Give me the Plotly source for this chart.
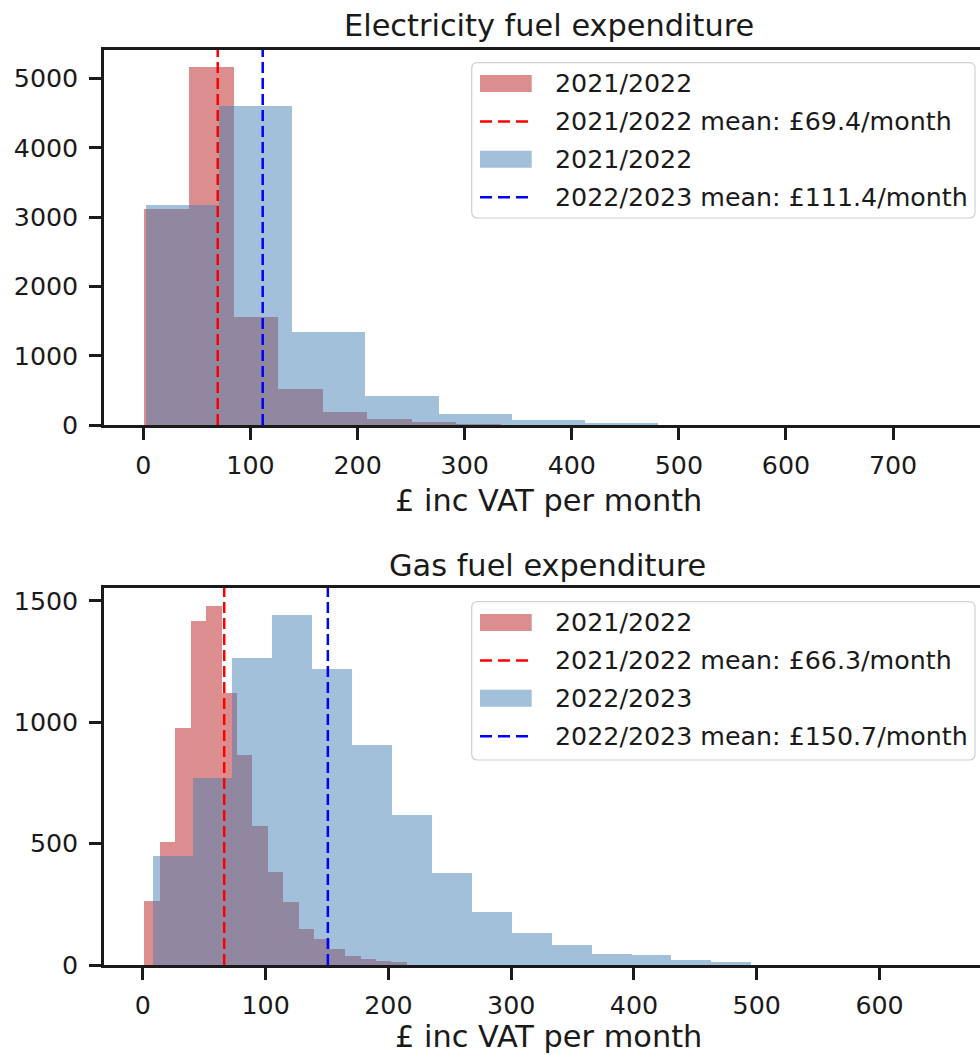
import plotly.graph_objects as go
import re

# ---------------- data ----------------
elec_2122_edges = [1.0, 42.6, 84.2, 125.8, 167.4, 209.0, 250.6, 292.2, 333.8, 375.4, 417.0]
elec_2122_counts = [3110, 5160, 1560, 515, 185, 82, 40, 12, 3, 1]
elec_2223_edges = [2.4, 70.7, 139.0, 207.3, 275.6, 343.9, 412.2, 480.5, 548.8, 617.1, 685.4]
elec_2223_counts = [3180, 4600, 1340, 420, 155, 65, 25, 2, 1, 1]
elec_mean_2122 = 69.4
elec_mean_2223 = 111.4

gas_2122_edges = [1.2, 13.8, 26.4, 39.0, 51.6, 64.1, 76.7, 89.3, 101.9, 114.4, 127.0,
                  139.6, 152.2, 164.8, 177.3, 189.9, 202.5, 215.1, 227.6, 240.2, 252.8]
gas_2122_counts = [265, 506, 977, 1418, 1480, 1122, 867, 571, 383, 261,
                   149, 107, 66, 38, 23, 15, 14, 1, 1, 1]
gas_2223_edges = [8.0, 40.5, 73.0, 105.5, 138.0, 170.5, 203.0, 235.5, 268.0, 300.5, 333.0,
                  365.5, 398.0, 430.5, 463.0, 495.5, 528.0, 560.5, 593.0, 625.5, 658.0]
gas_2223_counts = [447, 771, 1266, 1441, 1218, 908, 619, 377, 218, 133,
                   83, 47, 40, 19, 11, 1, 1, 1, 1, 1]
gas_mean_2122 = 66.3
gas_mean_2223 = 150.7

elec_xticks = [0, 100, 200, 300, 400, 500, 600, 700]
elec_yticks = [0, 1000, 2000, 3000, 4000, 5000]
gas_xticks = [0, 100, 200, 300, 400, 500, 600]
gas_yticks = [0, 500, 1000, 1500]

elec_title = "Electricity fuel expenditure"
gas_title = "Gas fuel expenditure"
x_label = "£ inc VAT per month"
elec_legend = ["2021/2022", f"2021/2022 mean: £{elec_mean_2122}/month",
               "2021/2022", f"2022/2023 mean: £{elec_mean_2223}/month"]
gas_legend = ["2021/2022", f"2021/2022 mean: £{gas_mean_2122}/month",
              "2022/2023", f"2022/2023 mean: £{gas_mean_2223}/month"]

# ---------------- styling ----------------
RED_FILL = "rgba(205,92,92,0.7)"      # indianred, alpha .7
BLUE_FILL = "rgba(70,130,180,0.5)"    # steelblue, alpha .5
FONT = "DejaVu Sans"
TXT = "#1a1a1a"
TICK_SIZE = 25.3
TITLE_SIZE = 30.4

W, H = 980, 1055
ML, MR, MT, MB = 104, 0, 50, 90
PW, PH = W - ML - MR, H - MT - MB


def fx(px):
    return (px - ML) / PW


def fy(py):
    return (H - MB - py) / PH


def bars(edges, counts, color, name, xa, ya):
    centers = [(a + b) / 2 for a, b in zip(edges[:-1], edges[1:])]
    widths = [b - a for a, b in zip(edges[:-1], edges[1:])]
    return go.Bar(x=centers, y=counts, width=widths, name=name,
                  marker=dict(color=color, line=dict(width=0)),
                  xaxis=xa, yaxis=ya, showlegend=False, hoverinfo="x+y")


fig = go.Figure()
fig.add_trace(bars(elec_2122_edges, elec_2122_counts, RED_FILL, elec_legend[0], "x", "y"))
fig.add_trace(bars(elec_2223_edges, elec_2223_counts, BLUE_FILL, elec_legend[2], "x", "y"))
fig.add_trace(bars(gas_2122_edges, gas_2122_counts, RED_FILL, gas_legend[0], "x2", "y2"))
fig.add_trace(bars(gas_2223_edges, gas_2223_counts, BLUE_FILL, gas_legend[2], "x2", "y2"))

shapes = []
annotations = []
DASH = "11px,5px"

# mean lines
for xr, yr, m, c in [("x", "y", elec_mean_2122, "red"), ("x", "y", elec_mean_2223, "blue"),
                     ("x2", "y2", gas_mean_2122, "red"), ("x2", "y2", gas_mean_2223, "blue")]:
    shapes.append(dict(type="line", xref=xr, yref=yr + " domain", x0=m, x1=m, y0=0, y1=1,
                       line=dict(color=c, width=2.5, dash=DASH), layer="above"))


def legend(box_top, box_bot, labels, colors_kind):
    left, right, r = 471.7, 975.0, 6
    path = (f"M {left + r},{box_top} L {right - r},{box_top} Q {right},{box_top} {right},{box_top + r} "
            f"L {right},{box_bot - r} Q {right},{box_bot} {right - r},{box_bot} "
            f"L {left + r},{box_bot} Q {left},{box_bot} {left},{box_bot - r} "
            f"L {left},{box_top + r} Q {left},{box_top} {left + r},{box_top} Z")

    def conv(match):
        a, b = float(match.group(1)), float(match.group(2))
        return f"{fx(a):.5f},{fy(b):.5f}"
    path = re.sub(r"([-\d.]+),([-\d.]+)", conv, path)
    shapes.append(dict(type="path", xref="paper", yref="paper", path=path,
                       fillcolor="rgba(255,255,255,0.8)", line=dict(color="#d0d0d0", width=1.2),
                       layer="above"))
    first = box_top + 20.8
    step = 37.9
    for i, (lab, kind) in enumerate(zip(labels, colors_kind)):
        cy = first + i * step
        if kind in ("rf", "bf"):
            shapes.append(dict(type="rect", xref="paper", yref="paper",
                               x0=fx(480), x1=fx(531.7), y0=fy(cy - 8.5), y1=fy(cy + 8.5),
                               fillcolor=RED_FILL if kind == "rf" else BLUE_FILL,
                               line=dict(width=0), layer="above"))
        else:
            shapes.append(dict(type="line", xref="paper", yref="paper",
                               x0=fx(480), x1=fx(531.7), y0=fy(cy), y1=fy(cy),
                               line=dict(color="red" if kind == "rl" else "blue", width=2.5,
                                         dash="12px,6px"),
                               layer="above"))
        annotations.append(dict(text=lab, xref="paper", yref="paper", x=fx(552.7), y=fy(cy),
                                xanchor="left", yanchor="middle", showarrow=False,
                                font=dict(family=FONT, size=TICK_SIZE, color=TXT)))


legend(62.7, 218.0, elec_legend, ["rf", "rl", "bf", "bl"])
legend(601.7, 760.0, gas_legend, ["rf", "rl", "bf", "bl"])

# titles and axis labels
for text, x, y, size in [(elec_title, 548.5, 25.5, TITLE_SIZE), (gas_title, 547.0, 565.0, TITLE_SIZE),
                         (x_label, 548.3, 500.0, TITLE_SIZE), (x_label, 548.3, 1036.5, TITLE_SIZE)]:
    annotations.append(dict(text=text, xref="paper", yref="paper", x=fx(x), y=fy(y),
                            xanchor="center", yanchor="middle", showarrow=False,
                            font=dict(family=FONT, size=size, color=TXT)))

axis_common = dict(showgrid=False, zeroline=False, showline=True, linecolor=TXT, linewidth=2.5,
                   ticks="outside", ticklen=12, tickwidth=2.5, tickcolor=TXT,
                   tickfont=dict(family=FONT, size=TICK_SIZE, color=TXT))

top_dom = [fy(425), 1.0]
bot_dom = [0.0, fy(588)]

fig.update_layout(
    width=W, height=H, margin=dict(l=ML, r=MR, t=MT, b=MB, pad=0),
    paper_bgcolor="white", plot_bgcolor="white",
    barmode="overlay", bargap=0, showlegend=False,
    xaxis=dict(domain=[0, 1], anchor="y", range=[-36.8, 781.2], tickvals=elec_xticks,
               mirror=True, ticklabelstandoff=4, **axis_common),
    yaxis=dict(domain=top_dom, anchor="x", range=[0, 5410], tickvals=elec_yticks,
               ticklabelstandoff=6, **axis_common),
    xaxis2=dict(domain=[0, 1], anchor="y2", range=[-31.6, 681.8], tickvals=gas_xticks,
                mirror=True, ticklabelstandoff=4, **axis_common),
    yaxis2=dict(domain=bot_dom, anchor="x2", range=[0, 1553], tickvals=gas_yticks,
                ticklabelstandoff=6, **axis_common),
    shapes=shapes, annotations=annotations,
)

fig.write_html("out.html", config={"displayModeBar": False},
               post_script="document.body.style.margin='0';document.body.style.overflow='hidden';")
